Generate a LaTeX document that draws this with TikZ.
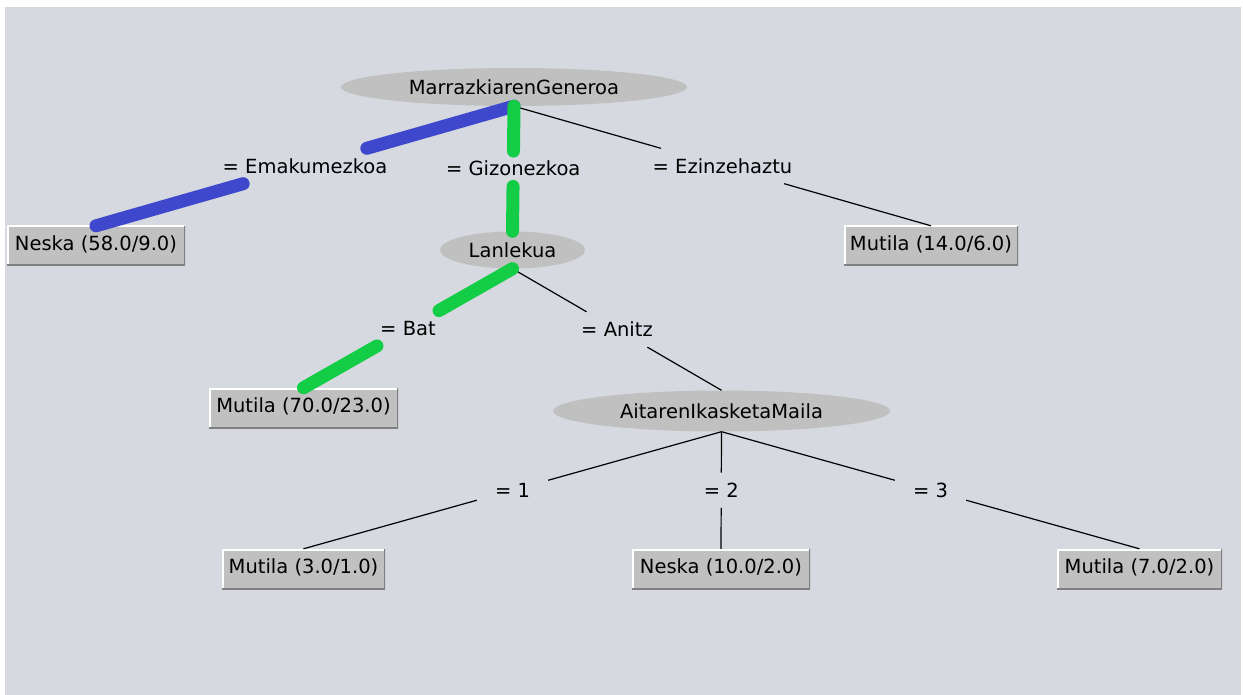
\documentclass[tikz,border=0pt]{standalone}
\usepackage{fontspec}
\setmainfont{DejaVu Sans}
\usetikzlibrary{shapes.geometric}
\definecolor{bg}{RGB}{214,217,224}
\definecolor{nodegray}{RGB}{192,192,192}
\definecolor{bevdark}{RGB}{128,128,128}
\definecolor{hlblue}{RGB}{63,72,204}
\definecolor{hlgreen}{RGB}{20,205,70}
\begin{document}
\begin{tikzpicture}[x=1pt,y=-1pt,
  every node/.style={font=\fontsize{19.5}{23}\selectfont},
  attr/.style={ellipse, fill=nodegray, inner sep=0pt, text height=14.2pt, text depth=0pt},
  leaf/.style={rectangle, fill=nodegray, inner sep=0pt, minimum height=40pt,
    text height=15pt, text depth=6pt,
    path picture={
      \draw[white,line width=3pt] (path picture bounding box.south west) -- (path picture bounding box.north west) -- (path picture bounding box.north east);
      \draw[bevdark,line width=3pt] (path picture bounding box.south west) -- (path picture bounding box.south east) -- (path picture bounding box.north east);
    }},
  lbl/.style={rectangle, inner ysep=0pt, inner xsep=18pt, minimum height=35pt, text height=14.2pt, text depth=0pt},
  thinedge/.style={draw=black, line width=1.2pt},
  bluehl/.style={draw=hlblue, line width=13pt, line cap=round},
  greenhl/.style={draw=hlgreen, line width=13pt, line cap=round}]

\useasboundingbox (0,0) rectangle (1243,695);
\fill[white] (0,0) rectangle (1243,695);
\fill[bg] (5,7) rectangle (1241,695);

% decision nodes
\node[attr, minimum width=346pt, minimum height=38pt] (root) at (514,87) {MarrazkiarenGeneroa};
\node[attr, minimum width=145pt, minimum height=37pt] (lan) at (512.5,250) {Lanlekua};
\node[attr, minimum width=337pt, minimum height=41pt] (ait) at (721.5,411) {AitarenIkasketaMaila};

% leaves
\node[leaf, minimum width=178pt] (l1) at (96,246) {Neska (58.0/9.0)};
\node[leaf, minimum width=174pt] (l2) at (931,246) {Mutila (14.0/6.0)};
\node[leaf, minimum width=189pt] (l3) at (303.5,408) {Mutila (70.0/23.0)};
\node[leaf, minimum width=163pt] (l4) at (303.5,569) {Mutila (3.0/1.0)};
\node[leaf, minimum width=178pt] (l5) at (721,569) {Neska (10.0/2.0)};
\node[leaf, minimum width=165pt] (l6) at (1139.5,569) {Mutila (7.0/2.0)};

% edge labels
\path (root.south) -- (l1.north) node[lbl, midway] (e1) {= Emakumezkoa};
\path (root.south) -- (lan.north) node[lbl, midway] (e2) {= Gizonezkoa};
\path (root.south) -- (l2.north) node[lbl, midway] (e3) {= Ezinzehaztu};
\path (lan.south) -- (l3.north) node[lbl, midway] (e4) {= Bat};
\path (lan.south) -- (ait.north) node[lbl, midway] (e5) {= Anitz};
\path (ait.south) -- (l4.north) node[lbl, midway] (e6) {= 1};
\path (ait.south) -- (l5.north) node[lbl, midway] (e7) {= 2};
\path (ait.south) -- (l6.north) node[lbl, midway] (e8) {= 3};

% connectors
\draw[thinedge] (root.south) -- (e3);
\draw[thinedge] (e3) -- (l2.north);
\draw[thinedge] (lan.south) -- (e5);
\draw[thinedge] (e5) -- (ait.north);
\draw[thinedge] (ait.south) -- (e6);
\draw[thinedge] (e6) -- (l4.north);
\draw[thinedge] (ait.south) -- (e7);
\draw[thinedge] (e7) -- (l5.north);
\draw[thinedge] (ait.south) -- (e8);
\draw[thinedge] (e8) -- (l6.north);
\draw[bluehl] (root.south) -- (e1);
\draw[bluehl] (e1) -- (l1.north);
\draw[greenhl] (root.south) -- (e2);
\draw[greenhl] (e2) -- (lan.north);
\draw[greenhl] (lan.south) -- (e4);
\draw[greenhl] (e4) -- (l3.north);
\end{tikzpicture}
\end{document}
